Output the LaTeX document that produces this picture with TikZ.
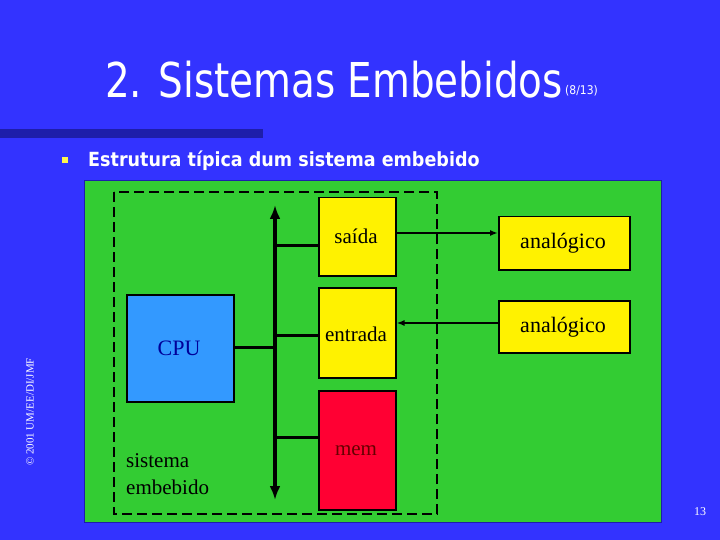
\documentclass[tikz,border=0pt]{standalone}
\usepackage{fontspec}
\setmainfont{Liberation Serif}
\newfontfamily\titlefont{DejaVu Sans Condensed}
\newfontfamily\boldsans{DejaVu Sans Condensed Bold}
\usetikzlibrary{arrows.meta,positioning}
\definecolor{slideblue}{RGB}{51,51,255}
\definecolor{barblue}{RGB}{30,30,170}
\definecolor{panelgreen}{RGB}{51,204,51}
\definecolor{cpublue}{RGB}{51,153,255}
\definecolor{memred}{RGB}{255,0,51}
\tikzset{
  blockbox/.style={draw=black,line width=1.5pt,inner sep=0pt,anchor=north west},
  iobox/.style={blockbox,fill=yellow},
  link/.style={line width=3pt},
  sig/.style={line width=2.2pt,-{Latex[length=8pt,width=6pt]}},
}
\begin{document}
\begin{tikzpicture}[x=1pt,y=-1pt,font=\rmfamily]
  \fill[slideblue] (0,0) rectangle (720,540);
  \useasboundingbox (0,0) rectangle (720,540);
  \fill[barblue] (0,129) rectangle (263,138);

  % header
  \node[anchor=base west,text=white,font=\titlefont\fontsize{48}{48}\selectfont,inner sep=0pt,xscale=0.9] (title) at (105,98) {2. Sistemas Embebidos};
  \node[anchor=base west,text=white,font=\titlefont\fontsize{12}{12}\selectfont,inner sep=0pt] (page) at (565,95) {(8/13)};
  \fill[yellow!70!white] (62,157) rectangle (68,163);
  \node[anchor=base west,text=white,font=\boldsans\fontsize{19.5}{19.5}\selectfont,inner sep=0pt] (bullet) at (88,167) {Estrutura típica dum sistema embebido};

  % panel
  \draw[fill=panelgreen,draw=barblue] (84,180) rectangle (661,522);
  \draw[line width=2.5pt,dash pattern=on 10pt off 5pt] (114,192) rectangle (437,514);

  \node[blockbox,fill=cpublue,minimum width=107,minimum height=107] (cpu) at (126,294) {};
  \node[font=\fontsize{22}{22}\selectfont,text=blue!60!black] at (179,348) {CPU};
  \node[iobox,minimum width=77,minimum height=78] (out) at (318,197) {};
  \node[font=\fontsize{21}{21}\selectfont] at (356,236) {saída};
  \node[iobox,minimum width=77,minimum height=90] (in) at (318,287) {};
  \node[font=\fontsize{21}{21}\selectfont] at (356,334) {entrada};
  \node[blockbox,fill=memred,minimum width=77,minimum height=119] (mem) at (318,390) {};
  \node[font=\fontsize{21}{21}\selectfont,text=red!40!black] at (356,451) {mem};
  \node[iobox,minimum width=131,minimum height=53] (anaA) at (498,216) {};
  \node[font=\fontsize{22}{22}\selectfont] at (563,243) {analógico};
  \node[iobox,minimum width=131,minimum height=52] (anaB) at (498,300) {};
  \node[font=\fontsize{22}{22}\selectfont] at (563,327) {analógico};
  \node[anchor=north west,inner sep=0pt,align=left,font=\fontsize{21}{27}\selectfont] (label) at (126,453) {sistema\\embebido};

  % bus
  \coordinate (bustop) at (275,205);
  \coordinate (busbot) at (275,500);
  \draw[line width=3.5pt,{Latex[length=14pt,width=11pt]}-{Latex[length=14pt,width=11pt]}] (bustop) -- (busbot);
  \draw[link] (cpu.east |- 0,347) -- (275,347);
  \draw[link] (275,245) -- (out.west |- 0,245);
  \draw[link] (275,335) -- (in.west |- 0,335);
  \draw[link] (275,437) -- (mem.west |- 0,437);
  \draw[sig] (out.east |- 0,233) -- (anaA.west |- 0,233);
  \draw[sig] (anaB.west |- 0,323) -- (in.east |- 0,323);

  \node[rotate=90,text=white,font=\fontsize{11}{11}\selectfont] (copy) at (30,412) {© 2001 UM/EE/DI/JMF};
  \node[text=white,font=\fontsize{12}{12}\selectfont] (num) at (700,512) {13};
\end{tikzpicture}
\end{document}
